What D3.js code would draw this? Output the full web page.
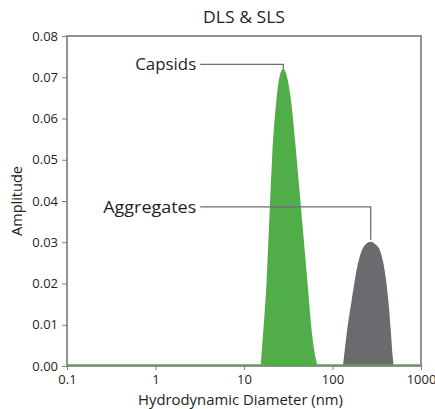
<!DOCTYPE html>
<html><head><meta charset="utf-8">
<script src="https://cdn.jsdelivr.net/npm/d3@7"></script>
<style>body{margin:0;background:#fff}svg{display:block}text{font-family:"Open Sans",sans-serif;fill:#231f20}</style>
</head><body><svg id="c" width="435" height="409"></svg>
<script>
// Data (diameter in nm, amplitude)
const capsidDiam = [0.1, 15.5, 15.77, 15.97, 16.83, 18.34, 20.03, 21.44, 23.78, 25.52, 27.81, 30.61, 33.10, 37.71, 42.93, 51.10, 57.17, 63.42, 66.81, 67.5, 1000];
const capsidAmp  = [0, 0, 0, 0.0015, 0.008, 0.020, 0.0386, 0.0524, 0.0645, 0.0695, 0.0716, 0.069, 0.0645, 0.0524, 0.0386, 0.020, 0.008, 0.0015, 0, 0, 0];
const aggDiam = [128, 130.4, 134.9, 144.7, 164.8, 190.6, 213.8, 239.0, 270.2, 302.1, 344.1, 381.7, 427.0, 458.1, 478.8, 495.4, 500];
const aggAmp  = [0, 0, 0.0023, 0.0079, 0.016, 0.0241, 0.0280, 0.0296, 0.0301, 0.0296, 0.0280, 0.0241, 0.016, 0.0079, 0.0023, 0, 0];
const xTicks = [0.1, 1, 10, 100, 1000];
const xTickLabels = ["0.1", "1", "10", "100", "1000"];
const yTicks = [0, 0.01, 0.02, 0.03, 0.04, 0.05, 0.06, 0.07, 0.08];
const annotLabels = ["Capsids", "Aggregates"];
const annotLineAmp = [0.0731, 0.0386];
const annotLabelDiam = 3.2;

const W = 435, H = 409;
const m = {l: 67, r: 14, t: 36, b: 43};
const svg = d3.select("#c");
const x = d3.scaleLog().domain([0.1, 1000]).range([m.l, W - m.r]);
const y = d3.scaleLinear().domain([0, 0.08]).range([H - m.b, m.t]);

const cap = capsidDiam.map((d, i) => [d, capsidAmp[i]]);
const agg = aggDiam.map((d, i) => [d, aggAmp[i]]);

const area = d3.area().x(d => x(d[0])).y0(y(0)).y1(d => y(d[1])).curve(d3.curveMonotoneX);
const line = d3.line().x(d => x(d[0])).y(d => y(d[1])).curve(d3.curveMonotoneX);

svg.append("path").datum(agg).attr("d", area).attr("fill", "#6a6b6f");
svg.append("path").datum(cap).attr("d", area).attr("fill", "#50ad48");
svg.append("path").datum(cap).attr("d", line).attr("fill", "none").attr("stroke", "#50ad48").attr("stroke-width", 1.6)
  .attr("transform", "translate(0,-1)");

// frame
svg.append("rect").attr("x", m.l).attr("y", m.t).attr("width", W - m.l - m.r).attr("height", H - m.t - m.b)
  .attr("fill", "none").attr("stroke", "#808080").attr("stroke-width", 1.7);

// axes
const xAxis = d3.axisBottom(x).tickValues(xTicks).tickFormat((d, i) => xTickLabels[i]).tickSize(4).tickPadding(5);
const gx = svg.append("g").attr("transform", `translate(0,${H - m.b})`).call(xAxis);
const yAxis = d3.axisLeft(y).tickValues(yTicks).tickFormat(d3.format(".2f")).tickSize(5).tickPadding(4);
const gy = svg.append("g").attr("transform", `translate(${m.l},0)`).call(yAxis);
[gx, gy].forEach(g => {
  g.select(".domain").remove();
  g.selectAll(".tick line").attr("stroke", "#808080").attr("stroke-width", 1);
  g.selectAll(".tick text").attr("font-size", 13).attr("fill", "#231f20").style("font-family", '"Open Sans",sans-serif');
});

// annotations
const peaks = [cap, agg].map(s => s.reduce((a, b) => b[1] > a[1] ? b : a));
const annotWidths = [61, 93];
annotLabels.forEach((lab, i) => {
  const ly = y(annotLineAmp[i]);
  const lx = x(annotLabelDiam);
  const px = x(peaks[i][0]);
  svg.append("path").attr("d", `M${lx},${ly}H${px}V${y(peaks[i][1]) - 2}`)
    .attr("fill", "none").attr("stroke", "#6d6e71").attr("stroke-width", 1.3);
  svg.append("text").attr("x", lx - 4).attr("y", ly).attr("dy", "0.35em").attr("text-anchor", "end")
    .attr("font-size", 16.5).attr("textLength", annotWidths[i]).attr("lengthAdjust", "spacingAndGlyphs").text(lab);
});

// titles
svg.append("text").attr("x", (m.l + W - m.r) / 2).attr("y", 23).attr("text-anchor", "middle")
  .attr("font-size", 15.5).attr("font-weight", 500).attr("textLength", 82).attr("lengthAdjust", "spacingAndGlyphs").text("DLS & SLS");
svg.append("text").attr("x", 240.5).attr("y", 405).attr("text-anchor", "middle")
  .attr("font-size", 14.5).attr("textLength", 205).attr("lengthAdjust", "spacingAndGlyphs").text("Hydrodynamic Diameter (nm)");
svg.append("text").attr("transform", `translate(22,${(m.t + H - m.b) / 2}) rotate(-90)`).attr("text-anchor", "middle")
  .attr("font-size", 14.5).attr("textLength", 70).attr("lengthAdjust", "spacingAndGlyphs").text("Amplitude");
</script></body></html>
